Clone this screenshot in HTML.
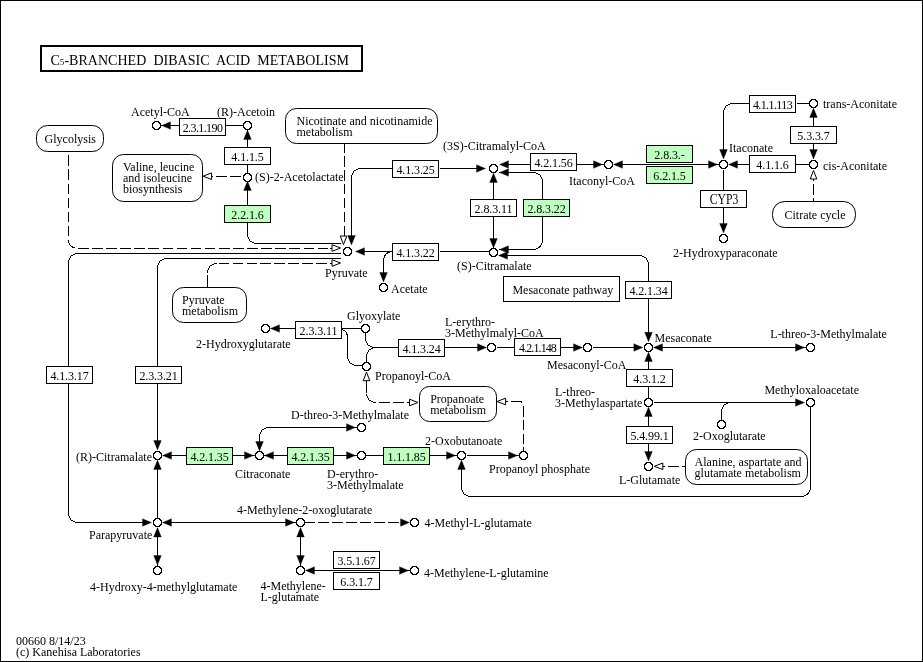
<!DOCTYPE html>
<html><head><meta charset="utf-8"><title>C5-Branched dibasic acid metabolism</title>
<style>
html,body{margin:0;padding:0;background:#fff;}
body{width:923px;height:662px;overflow:hidden;font-family:"Liberation Serif",serif;}
svg{display:block;}
svg text{font-family:"Liberation Serif",serif;font-size:12px;fill:#000;}
</style></head><body>
<svg width="923" height="662" viewBox="0 0 923 662">
<defs><filter id="gs" x="0" y="0" width="923" height="662" filterUnits="userSpaceOnUse" color-interpolation-filters="sRGB"><feColorMatrix type="saturate" values="0"/></filter>
<g id="c" shape-rendering="crispEdges"><path fill="#fff" d="M-1,-3h3v7h-3zM-2,-2h5v5h-5zM-3,-1h7v3h-7z"/><path fill="#000" d="M-2,-4h5v1h-5zM-3,-3h2v1h-2zM2,-3h2v1h-2zM-4,-2h2v1h-2zM3,-2h2v1h-2zM-4,-1h1v3h-1zM4,-1h1v3h-1zM-4,2h2v1h-2zM3,2h2v1h-2zM-3,3h2v1h-2zM2,3h2v1h-2zM-2,4h5v1h-5z"/></g></defs>
<rect x="0" y="0" width="923" height="662" fill="#fff"/>
<rect x="0.5" y="0.5" width="922" height="661" fill="none" stroke="#000" stroke-width="1" shape-rendering="crispEdges"/>
<rect x="41" y="46" width="321" height="25" fill="#fff" stroke="#000" stroke-width="2" shape-rendering="crispEdges"/>
<rect x="36.5" y="125.5" width="67" height="26" rx="11" ry="11" fill="#fff" stroke="#000" stroke-width="1"/>
<rect x="112.5" y="154.5" width="90" height="47" rx="11" ry="11" fill="#fff" stroke="#000" stroke-width="1"/>
<rect x="285.5" y="108.5" width="152" height="35" rx="11" ry="11" fill="#fff" stroke="#000" stroke-width="1"/>
<rect x="172.5" y="287.5" width="74" height="35" rx="11" ry="11" fill="#fff" stroke="#000" stroke-width="1"/>
<rect x="772.5" y="201.5" width="83" height="26" rx="12" ry="12" fill="#fff" stroke="#000" stroke-width="1"/>
<rect x="419.5" y="386.5" width="77" height="35" rx="10" ry="10" fill="#fff" stroke="#000" stroke-width="1"/>
<rect x="685.5" y="449.5" width="122" height="35" rx="11" ry="11" fill="#fff" stroke="#000" stroke-width="1"/>
<rect x="503.5" y="276.5" width="116" height="25" fill="#fff" stroke="#000" stroke-width="1" shape-rendering="crispEdges"/>
<path d="M160.5,125.5 L243.5,125.5" fill="none" stroke="#000" stroke-width="1" shape-rendering="crispEdges"/>
<polygon points="161.5,125.5 170.5,121.65 170.5,129.35" fill="#000" stroke="#000" stroke-width="0.3"/>
<path d="M247.5,129.5 L247.5,172.5" fill="none" stroke="#000" stroke-width="1" shape-rendering="crispEdges"/>
<polygon points="247.5,130.0 243.65,139.5 251.35,139.5" fill="#000" stroke="#000" stroke-width="0.3"/>
<path d="M247.5,180.5 L247.5,206.5" fill="none" stroke="#000" stroke-width="1" shape-rendering="crispEdges"/>
<polygon points="247.5,181.0 243.65,190.5 251.35,190.5" fill="#000" stroke="#000" stroke-width="0.3"/>
<path d="M247.5,222 L247.5,234.5 A9,9,0,0,0,256.5,243.5 L341,243.5" fill="none" stroke="#000" stroke-width="1" shape-rendering="crispEdges"/>
<path d="M240.9,176.5 L204,176.5" fill="none" stroke="#000" stroke-width="1" stroke-dasharray="10.8,3.3" shape-rendering="crispEdges"/>
<polygon points="203.1,176.2 211.6,172.89999999999998 211.6,179.5" fill="#fff" stroke="#000" stroke-width="1"/>
<path d="M68.5,155.3 L68.5,239.5 A9,9,0,0,0,77.5,248.5 L328,248.5" fill="none" stroke="#000" stroke-width="1" stroke-dasharray="10.6,3.5" shape-rendering="crispEdges"/>
<path d="M329.5,248.5 L332.5,248.5" fill="none" stroke="#000" stroke-width="1" shape-rendering="crispEdges"/>
<polygon points="340.5,248.0 332.0,244.7 332.0,251.3" fill="#fff" stroke="#000" stroke-width="1"/>
<path d="M207.5,287 L207.5,275.2 M207.5,272.5 A9,9,0,0,1,216.5,263.5" fill="none" stroke="#000" stroke-width="1" shape-rendering="crispEdges"/>
<path d="M218.6,263.5 L327,263.5" fill="none" stroke="#000" stroke-width="1" stroke-dasharray="10.4,3.55" shape-rendering="crispEdges"/>
<path d="M329.5,263.5 L332.5,263.5" fill="none" stroke="#000" stroke-width="1" shape-rendering="crispEdges"/>
<polygon points="340.5,263.0 332.0,259.7 332.0,266.3" fill="#fff" stroke="#000" stroke-width="1"/>
<path d="M344.5,144 L344.5,235.5" fill="none" stroke="#000" stroke-width="1" stroke-dasharray="10.4,3.5" stroke-dashoffset="1.7" shape-rendering="crispEdges"/>
<polygon points="343.5,244.5 340.2,236.0 346.8,236.0" fill="#fff" stroke="#000" stroke-width="1"/>
<path d="M393,168.5 L360.5,168.5 A9,9,0,0,0,351.5,177.5 L351.5,236" fill="none" stroke="#000" stroke-width="1" shape-rendering="crispEdges"/>
<polygon points="351.5,245.0 347.65,235.5 355.35,235.5" fill="#000" stroke="#000" stroke-width="0.3"/>
<path d="M439.5,168.5 L480.5,168.5" fill="none" stroke="#000" stroke-width="1" shape-rendering="crispEdges"/>
<polygon points="485.5,168.5 476.5,164.65 476.5,172.35" fill="#000" stroke="#000" stroke-width="0.3"/>
<path d="M356.5,251.5 L393.5,251.5" fill="none" stroke="#000" stroke-width="1" shape-rendering="crispEdges"/>
<polygon points="355.5,251.5 364.5,247.65 364.5,255.35" fill="#000" stroke="#000" stroke-width="0.3"/>
<path d="M393,251.5 Q383.5,252,383.5,262 L383.5,273" fill="none" stroke="#000" stroke-width="1" shape-rendering="crispEdges"/>
<polygon points="383.5,282.0 379.65,272.5 387.35,272.5" fill="#000" stroke="#000" stroke-width="0.3"/>
<path d="M439.5,251.5 L489.5,251.5" fill="none" stroke="#000" stroke-width="1" shape-rendering="crispEdges"/>
<path d="M341,253.5 L77.5,253.5 A9,9,0,0,0,68.5,262.5 L68.5,513 L68.5,513.5 A9,9,0,0,0,77.5,522.5 L145,522.5" fill="none" stroke="#000" stroke-width="1" shape-rendering="crispEdges"/>
<polygon points="151.5,522.5 142.5,518.65 142.5,526.35" fill="#000" stroke="#000" stroke-width="0.3"/>
<path d="M341,258.5 L166.5,258.5 A9,9,0,0,0,157.5,267.5 L157.5,443" fill="none" stroke="#000" stroke-width="1" shape-rendering="crispEdges"/>
<polygon points="157.5,450.0 153.65,440.5 161.35,440.5" fill="#000" stroke="#000" stroke-width="0.3"/>
<path d="M493.5,173.5 L493.5,247.5" fill="none" stroke="#000" stroke-width="1" shape-rendering="crispEdges"/>
<polygon points="493.5,173.0 489.65,182.5 497.35,182.5" fill="#000" stroke="#000" stroke-width="0.3"/>
<polygon points="493.5,248.0 489.65,238.5 497.35,238.5" fill="#000" stroke="#000" stroke-width="0.3"/>
<path d="M500.5,164.5 L604.5,164.5" fill="none" stroke="#000" stroke-width="1" shape-rendering="crispEdges"/>
<polygon points="499.5,164.5 508.5,160.65 508.5,168.35" fill="#000" stroke="#000" stroke-width="0.3"/>
<polygon points="602.5,164.5 593.5,160.65 593.5,168.35" fill="#000" stroke="#000" stroke-width="0.3"/>
<path d="M499,172.5 L533.5,172.5 A9,9,0,0,1,542.5,181.5 L542.5,240 L542.5,240.5 A9,9,0,0,1,533.5,249.5 L499,249.5" fill="none" stroke="#000" stroke-width="1" shape-rendering="crispEdges"/>
<polygon points="499.5,172.5 508.5,168.65 508.5,176.35" fill="#000" stroke="#000" stroke-width="0.3"/>
<polygon points="499.5,249.5 508.5,245.65 508.5,253.35" fill="#000" stroke="#000" stroke-width="0.3"/>
<path d="M613.5,164.5 L718.5,164.5" fill="none" stroke="#000" stroke-width="1" shape-rendering="crispEdges"/>
<polygon points="613.5,164.5 622.5,160.65 622.5,168.35" fill="#000" stroke="#000" stroke-width="0.3"/>
<polygon points="717.5,164.5 708.5,160.65 708.5,168.35" fill="#000" stroke="#000" stroke-width="0.3"/>
<path d="M728.5,164.5 L809.5,164.5" fill="none" stroke="#000" stroke-width="1" shape-rendering="crispEdges"/>
<polygon points="728.5,164.5 737.5,160.65 737.5,168.35" fill="#000" stroke="#000" stroke-width="0.3"/>
<path d="M750,103.5 L732.5,103.5 A9,9,0,0,0,723.5,112.5 L723.5,150" fill="none" stroke="#000" stroke-width="1" shape-rendering="crispEdges"/>
<polygon points="723.5,159.0 719.65,149.5 727.35,149.5" fill="#000" stroke="#000" stroke-width="0.3"/>
<path d="M796.5,103.5 L809.5,103.5" fill="none" stroke="#000" stroke-width="1" shape-rendering="crispEdges"/>
<path d="M813.5,108.5 L813.5,158.5" fill="none" stroke="#000" stroke-width="1" shape-rendering="crispEdges"/>
<polygon points="813.5,108.0 809.65,117.5 817.35,117.5" fill="#000" stroke="#000" stroke-width="0.3"/>
<polygon points="813.5,159.0 809.65,149.5 817.35,149.5" fill="#000" stroke="#000" stroke-width="0.3"/>
<path d="M813.5,178 L813.5,181 M813.5,184 L813.5,195 M813.5,198 L813.5,201" fill="none" stroke="#000" stroke-width="1" shape-rendering="crispEdges"/>
<polygon points="813.5,170.5 810.2,179.0 816.8,179.0" fill="#fff" stroke="#000" stroke-width="1"/>
<path d="M723.5,169.5 L723.5,228.5" fill="none" stroke="#000" stroke-width="1" shape-rendering="crispEdges"/>
<polygon points="723.5,233.0 719.65,223.5 727.35,223.5" fill="#000" stroke="#000" stroke-width="0.3"/>
<path d="M499,255.5 L639.5,255.5 A9,9,0,0,1,648.5,264.5 L648.5,334" fill="none" stroke="#000" stroke-width="1" shape-rendering="crispEdges"/>
<polygon points="498.5,255.5 507.5,251.65 507.5,259.35" fill="#000" stroke="#000" stroke-width="0.3"/>
<polygon points="648.5,341.8 644.65,332.3 652.35,332.3" fill="#000" stroke="#000" stroke-width="0.3"/>
<path d="M270.5,328.5 L361.5,328.5" fill="none" stroke="#000" stroke-width="1" shape-rendering="crispEdges"/>
<polygon points="270.5,328.5 279.5,324.65 279.5,332.35" fill="#000" stroke="#000" stroke-width="0.3"/>
<path d="M341.5,329.5 Q347.5,330.5,347.5,338 L347.5,356.5 A9,9,0,0,0,356.5,365.5 L362,365.5" fill="none" stroke="#000" stroke-width="1" shape-rendering="crispEdges"/>
<path d="M365.5,332 L365.5,338.5 A9,9,0,0,0,374.5,347.5 L398,347.5" fill="none" stroke="#000" stroke-width="1" shape-rendering="crispEdges"/>
<path d="M366.5,362 L366.5,356.5 A9,9,0,0,1,375.5,347.5" fill="none" stroke="#000" stroke-width="1" shape-rendering="crispEdges"/>
<path d="M444.5,347.5 L484.5,347.5" fill="none" stroke="#000" stroke-width="1" shape-rendering="crispEdges"/>
<polygon points="486.5,347.5 477.5,343.65 477.5,351.35" fill="#000" stroke="#000" stroke-width="0.3"/>
<path d="M496.5,347.5 L514.5,347.5" fill="none" stroke="#000" stroke-width="1" shape-rendering="crispEdges"/>
<path d="M560.5,347.5 L580.5,347.5" fill="none" stroke="#000" stroke-width="1" shape-rendering="crispEdges"/>
<polygon points="582.5,347.5 573.5,343.65 573.5,351.35" fill="#000" stroke="#000" stroke-width="0.3"/>
<path d="M592.5,347.5 L640.5,347.5" fill="none" stroke="#000" stroke-width="1" shape-rendering="crispEdges"/>
<polygon points="642.8,347.5 633.8,343.65 633.8,351.35" fill="#000" stroke="#000" stroke-width="0.3"/>
<path d="M653.5,347.5 L805.5,347.5" fill="none" stroke="#000" stroke-width="1" shape-rendering="crispEdges"/>
<polygon points="653.5,347.5 662.5,343.65 662.5,351.35" fill="#000" stroke="#000" stroke-width="0.3"/>
<polygon points="804.5,347.5 795.5,343.65 795.5,351.35" fill="#000" stroke="#000" stroke-width="0.3"/>
<path d="M648.5,352.5 L648.5,398.5" fill="none" stroke="#000" stroke-width="1" shape-rendering="crispEdges"/>
<polygon points="648.5,352.0 644.65,361.5 652.35,361.5" fill="#000" stroke="#000" stroke-width="0.3"/>
<path d="M648.5,407.5 L648.5,458.5" fill="none" stroke="#000" stroke-width="1" shape-rendering="crispEdges"/>
<polygon points="648.5,407.0 644.65,416.5 652.35,416.5" fill="#000" stroke="#000" stroke-width="0.3"/>
<polygon points="648.5,461.0 644.65,451.5 652.35,451.5" fill="#000" stroke="#000" stroke-width="0.3"/>
<path d="M653.5,402.5 L800.5,402.5" fill="none" stroke="#000" stroke-width="1" shape-rendering="crispEdges"/>
<polygon points="804.5,402.5 795.5,398.65 795.5,406.35" fill="#000" stroke="#000" stroke-width="0.3"/>
<path d="M721.5,420 L721.5,411.5 A9,9,0,0,1,730.5,402.5" fill="none" stroke="#000" stroke-width="1" shape-rendering="crispEdges"/>
<path d="M662,466.5 L665,466.5 M668.1,466.5 L678.8,466.5 M682,466.5 L685.5,466.5" fill="none" stroke="#000" stroke-width="1" shape-rendering="crispEdges"/>
<polygon points="654.3,466.3 662.8,463.0 662.8,469.6" fill="#fff" stroke="#000" stroke-width="1"/>
<path d="M810.5,407 L810.5,487.5 A9,9,0,0,1,801.5,496.5 L470.5,496.5 A9,9,0,0,1,461.5,487.5 L461.5,468" fill="none" stroke="#000" stroke-width="1" shape-rendering="crispEdges"/>
<polygon points="461.5,460.0 457.65,469.5 465.35,469.5" fill="#000" stroke="#000" stroke-width="0.3"/>
<path d="M366.5,381 L366.5,393 M366.5,396 L366.5,393.5 A9,9,0,0,0,375.5,402.5 L376,402.5 M379,402.5 L390,402.5 M393,402.5 L404,402.5 M407,402.5 L409,402.5" fill="none" stroke="#000" stroke-width="1" shape-rendering="crispEdges"/>
<polygon points="366.5,372.2 363.2,380.7 369.8,380.7" fill="#fff" stroke="#000" stroke-width="1"/>
<polygon points="418.0,402.5 409.5,399.2 409.5,405.8" fill="#fff" stroke="#000" stroke-width="1"/>
<path d="M505,401.5 L508,401.5 M511,401.5 L521,401.5 L522,402.5 M523.5,406 L523.5,416.8 M523.5,419.7 L523.5,430.3 M523.5,433.5 L523.5,444 M523.5,447.3 L523.5,451" fill="none" stroke="#000" stroke-width="1" shape-rendering="crispEdges"/>
<polygon points="497.1,401.5 505.6,398.2 505.6,404.8" fill="#fff" stroke="#000" stroke-width="1"/>
<path d="M162.5,455.5 L457.5,455.5" fill="none" stroke="#000" stroke-width="1" shape-rendering="crispEdges"/>
<polygon points="162.5,455.5 171.5,451.65 171.5,459.35" fill="#000" stroke="#000" stroke-width="0.3"/>
<polygon points="253.5,455.5 244.5,451.65 244.5,459.35" fill="#000" stroke="#000" stroke-width="0.3"/>
<polygon points="264.5,455.5 273.5,451.65 273.5,459.35" fill="#000" stroke="#000" stroke-width="0.3"/>
<polygon points="355.5,455.5 346.5,451.65 346.5,459.35" fill="#000" stroke="#000" stroke-width="0.3"/>
<polygon points="455.5,455.5 446.5,451.65 446.5,459.35" fill="#000" stroke="#000" stroke-width="0.3"/>
<path d="M466.5,455.5 L519.5,455.5" fill="none" stroke="#000" stroke-width="1" shape-rendering="crispEdges"/>
<polygon points="517.5,455.5 508.5,451.65 508.5,459.35" fill="#000" stroke="#000" stroke-width="0.3"/>
<path d="M357,427.5 L268.5,427.5 A9,9,0,0,0,259.5,436.5 L259.5,442" fill="none" stroke="#000" stroke-width="1" shape-rendering="crispEdges"/>
<polygon points="355.5,427.5 346.5,423.65 346.5,431.35" fill="#000" stroke="#000" stroke-width="0.3"/>
<polygon points="259.5,451.0 255.65,441.5 263.35,441.5" fill="#000" stroke="#000" stroke-width="0.3"/>
<path d="M157.5,460.5 L157.5,518.5" fill="none" stroke="#000" stroke-width="1" shape-rendering="crispEdges"/>
<polygon points="157.5,460.0 153.65,469.5 161.35,469.5" fill="#000" stroke="#000" stroke-width="0.3"/>
<path d="M157.5,527.5 L157.5,566.5" fill="none" stroke="#000" stroke-width="1" shape-rendering="crispEdges"/>
<polygon points="157.5,527.5 153.65,537.0 161.35,537.0" fill="#000" stroke="#000" stroke-width="0.3"/>
<polygon points="157.5,565.0 153.65,555.5 161.35,555.5" fill="#000" stroke="#000" stroke-width="0.3"/>
<path d="M162.5,522.5 L296.5,522.5" fill="none" stroke="#000" stroke-width="1" shape-rendering="crispEdges"/>
<polygon points="162.5,522.5 171.5,518.65 171.5,526.35" fill="#000" stroke="#000" stroke-width="0.3"/>
<polygon points="294.5,522.5 285.5,518.65 285.5,526.35" fill="#000" stroke="#000" stroke-width="0.3"/>
<path d="M304.5,522.5 L400,522.5" fill="none" stroke="#000" stroke-width="1" stroke-dasharray="10.5,3.43" shape-rendering="crispEdges"/>
<polygon points="409.5,522.5 400.5,518.65 400.5,526.35" fill="#000" stroke="#000" stroke-width="0.3"/>
<path d="M300.5,527.5 L300.5,566.5" fill="none" stroke="#000" stroke-width="1" shape-rendering="crispEdges"/>
<polygon points="300.5,527.5 296.65,537.0 304.35,537.0" fill="#000" stroke="#000" stroke-width="0.3"/>
<polygon points="300.5,565.0 296.65,555.5 304.35,555.5" fill="#000" stroke="#000" stroke-width="0.3"/>
<path d="M305.5,570.5 L410.5,570.5" fill="none" stroke="#000" stroke-width="1" shape-rendering="crispEdges"/>
<polygon points="305.5,570.5 314.5,566.65 314.5,574.35" fill="#000" stroke="#000" stroke-width="0.3"/>
<polygon points="408.5,570.5 399.5,566.65 399.5,574.35" fill="#000" stroke="#000" stroke-width="0.3"/>
<rect x="179.5" y="118.5" width="46" height="17" fill="#fff" stroke="#000" stroke-width="1" shape-rendering="crispEdges"/>
<rect x="224.5" y="147.5" width="46" height="17" fill="#fff" stroke="#000" stroke-width="1" shape-rendering="crispEdges"/>
<rect x="224.5" y="205.5" width="46" height="17" fill="#bfffbf" stroke="#000" stroke-width="1" shape-rendering="crispEdges"/>
<rect x="392.5" y="160.5" width="46" height="17" fill="#fff" stroke="#000" stroke-width="1" shape-rendering="crispEdges"/>
<rect x="392.5" y="243.5" width="46" height="17" fill="#fff" stroke="#000" stroke-width="1" shape-rendering="crispEdges"/>
<rect x="470.5" y="199.5" width="46" height="17" fill="#fff" stroke="#000" stroke-width="1" shape-rendering="crispEdges"/>
<rect x="523.5" y="199.5" width="46" height="17" fill="#bfffbf" stroke="#000" stroke-width="1" shape-rendering="crispEdges"/>
<rect x="530.5" y="153.5" width="46" height="17" fill="#fff" stroke="#000" stroke-width="1" shape-rendering="crispEdges"/>
<rect x="646.5" y="145.5" width="46" height="17" fill="#bfffbf" stroke="#000" stroke-width="1" shape-rendering="crispEdges"/>
<rect x="646.5" y="166.5" width="46" height="17" fill="#bfffbf" stroke="#000" stroke-width="1" shape-rendering="crispEdges"/>
<rect x="749.5" y="155.5" width="46" height="17" fill="#fff" stroke="#000" stroke-width="1" shape-rendering="crispEdges"/>
<rect x="749.5" y="95.5" width="46" height="17" fill="#fff" stroke="#000" stroke-width="1" shape-rendering="crispEdges"/>
<rect x="790.5" y="126.5" width="46" height="17" fill="#fff" stroke="#000" stroke-width="1" shape-rendering="crispEdges"/>
<rect x="700.5" y="190.5" width="46" height="17" fill="#fff" stroke="#000" stroke-width="1" shape-rendering="crispEdges"/>
<rect x="625.5" y="281.5" width="46" height="17" fill="#fff" stroke="#000" stroke-width="1" shape-rendering="crispEdges"/>
<rect x="295.5" y="321.5" width="46" height="17" fill="#fff" stroke="#000" stroke-width="1" shape-rendering="crispEdges"/>
<rect x="398.5" y="339.5" width="46" height="17" fill="#fff" stroke="#000" stroke-width="1" shape-rendering="crispEdges"/>
<rect x="514.5" y="338.5" width="46" height="17" fill="#fff" stroke="#000" stroke-width="1" shape-rendering="crispEdges"/>
<rect x="626.5" y="369.5" width="46" height="17" fill="#fff" stroke="#000" stroke-width="1" shape-rendering="crispEdges"/>
<rect x="626.5" y="426.5" width="46" height="17" fill="#fff" stroke="#000" stroke-width="1" shape-rendering="crispEdges"/>
<rect x="46.5" y="366.5" width="46" height="17" fill="#fff" stroke="#000" stroke-width="1" shape-rendering="crispEdges"/>
<rect x="135.5" y="366.5" width="46" height="17" fill="#fff" stroke="#000" stroke-width="1" shape-rendering="crispEdges"/>
<rect x="186.5" y="447.5" width="46" height="17" fill="#bfffbf" stroke="#000" stroke-width="1" shape-rendering="crispEdges"/>
<rect x="287.5" y="447.5" width="46" height="17" fill="#bfffbf" stroke="#000" stroke-width="1" shape-rendering="crispEdges"/>
<rect x="383.5" y="447.5" width="46" height="17" fill="#bfffbf" stroke="#000" stroke-width="1" shape-rendering="crispEdges"/>
<rect x="333.5" y="551.5" width="46" height="17" fill="#fff" stroke="#000" stroke-width="1" shape-rendering="crispEdges"/>
<rect x="333.5" y="572.5" width="46" height="17" fill="#fff" stroke="#000" stroke-width="1" shape-rendering="crispEdges"/>
<use href="#c" x="156" y="125"/>
<use href="#c" x="247" y="125"/>
<use href="#c" x="247" y="177"/>
<use href="#c" x="347" y="251"/>
<use href="#c" x="383" y="287"/>
<use href="#c" x="493" y="168"/>
<use href="#c" x="493" y="252"/>
<use href="#c" x="608" y="164"/>
<use href="#c" x="723" y="164"/>
<use href="#c" x="813" y="164"/>
<use href="#c" x="813" y="103"/>
<use href="#c" x="723" y="238"/>
<use href="#c" x="265" y="328"/>
<use href="#c" x="365" y="328"/>
<use href="#c" x="366" y="366"/>
<use href="#c" x="491" y="347"/>
<use href="#c" x="587" y="347"/>
<use href="#c" x="648" y="347"/>
<use href="#c" x="810" y="347"/>
<use href="#c" x="648" y="402"/>
<use href="#c" x="810" y="402"/>
<use href="#c" x="721" y="424"/>
<use href="#c" x="648" y="466"/>
<use href="#c" x="157" y="455"/>
<use href="#c" x="259" y="455"/>
<use href="#c" x="361" y="427"/>
<use href="#c" x="361" y="455"/>
<use href="#c" x="461" y="455"/>
<use href="#c" x="523" y="455"/>
<use href="#c" x="157" y="522"/>
<use href="#c" x="157" y="570"/>
<use href="#c" x="300" y="522"/>
<use href="#c" x="414" y="522"/>
<use href="#c" x="300" y="570"/>
<use href="#c" x="414" y="570"/>
<g filter="url(#gs)">
<text id="title" x="50.5" y="65" textLength="298.5" style="font-size:14px;white-space:pre" xml:space="preserve">C<tspan style="font-size:9px">5</tspan>-BRANCHED  DIBASIC  ACID  METABOLISM</text>
<text x="44.6" y="143">Glycolysis</text>
<text x="123" y="171">Valine, leucine</text>
<text x="123" y="182">and isoleucine</text>
<text x="123" y="193">biosynthesis</text>
<text x="296.5" y="125">Nicotinate and nicotinamide</text>
<text x="296.5" y="136">metabolism</text>
<text x="182" y="304">Pyruvate</text>
<text x="182" y="315">metabolism</text>
<text x="784.5" y="219">Citrate cycle</text>
<text x="430.2" y="403">Propanoate</text>
<text x="430.2" y="414">metabolism</text>
<text x="694.6" y="466">Alanine, aspartate and</text>
<text x="694.6" y="477">glutamate metabolism</text>
<text x="512.4" y="294">Mesaconate pathway</text>
<text x="202.5" y="132" text-anchor="middle" letter-spacing="-0.6">2.3.1.190</text>
<text x="247.5" y="161" text-anchor="middle" letter-spacing="-0.1">4.1.1.5</text>
<text x="247.5" y="219" text-anchor="middle" letter-spacing="-0.1">2.2.1.6</text>
<text x="415.5" y="174" text-anchor="middle" letter-spacing="-0.1">4.1.3.25</text>
<text x="415.5" y="257" text-anchor="middle" letter-spacing="-0.1">4.1.3.22</text>
<text x="493.5" y="213" text-anchor="middle" letter-spacing="-0.1">2.8.3.11</text>
<text x="546.5" y="213" text-anchor="middle" letter-spacing="-0.1">2.8.3.22</text>
<text x="553.5" y="167" text-anchor="middle" letter-spacing="-0.1">4.2.1.56</text>
<text x="669.5" y="159" text-anchor="middle" letter-spacing="-0.1">2.8.3.-</text>
<text x="669.5" y="180" text-anchor="middle" letter-spacing="-0.1">6.2.1.5</text>
<text x="772.5" y="169" text-anchor="middle" letter-spacing="-0.1">4.1.1.6</text>
<text x="772.5" y="109" text-anchor="middle" letter-spacing="-0.6">4.1.1.113</text>
<text x="813.5" y="140" text-anchor="middle" letter-spacing="-0.1">5.3.3.7</text>
<text x="723.5" y="204" text-anchor="middle" letter-spacing="-0.1"></text>
<text x="709.7" y="204" style="font-size:13.8px" textLength="28.6" lengthAdjust="spacingAndGlyphs">CYP3</text>
<text x="648.5" y="295" text-anchor="middle" letter-spacing="-0.1">4.2.1.34</text>
<text x="318.5" y="335" text-anchor="middle" letter-spacing="-0.1">2.3.3.11</text>
<text x="421.5" y="353" text-anchor="middle" letter-spacing="-0.1">4.1.3.24</text>
<text x="537.5" y="352" text-anchor="middle" letter-spacing="-0.9">4.2.1.148</text>
<text x="649.5" y="383" text-anchor="middle" letter-spacing="-0.1">4.3.1.2</text>
<text x="649.5" y="440" text-anchor="middle" letter-spacing="-0.1">5.4.99.1</text>
<text x="69.5" y="380" text-anchor="middle" letter-spacing="-0.1">4.1.3.17</text>
<text x="158.5" y="380" text-anchor="middle" letter-spacing="-0.1">2.3.3.21</text>
<text x="209.5" y="461" text-anchor="middle" letter-spacing="-0.1">4.2.1.35</text>
<text x="310.5" y="461" text-anchor="middle" letter-spacing="-0.1">4.2.1.35</text>
<text x="406.5" y="461" text-anchor="middle" letter-spacing="-0.1">1.1.1.85</text>
<text x="356.5" y="565" text-anchor="middle" letter-spacing="-0.1">3.5.1.67</text>
<text x="356.5" y="586" text-anchor="middle" letter-spacing="-0.1">6.3.1.7</text>
<text x="131" y="116">Acetyl-CoA</text>
<text x="217" y="116">(R)-Acetoin</text>
<text x="255" y="181">(S)-2-Acetolactate</text>
<text x="325" y="277">Pyruvate</text>
<text x="391" y="293">Acetate</text>
<text x="443" y="150">(3S)-Citramalyl-CoA</text>
<text x="569" y="185">Itaconyl-CoA</text>
<text x="457" y="270">(S)-Citramalate</text>
<text x="729" y="152">Itaconate</text>
<text x="823" y="108">trans-Aconitate</text>
<text x="823" y="170">cis-Aconitate</text>
<text x="673" y="257">2-Hydroxyparaconate</text>
<text x="347" y="320">Glyoxylate</text>
<text x="196" y="348">2-Hydroxyglutarate</text>
<text x="445" y="326">L-erythro-</text>
<text x="445" y="337">3-Methylmalyl-CoA</text>
<text x="375" y="380">Propanoyl-CoA</text>
<text x="547" y="369">Mesaconyl-CoA</text>
<text x="654.5" y="341.5">Mesaconate</text>
<text x="770.3" y="338">L-threo-3-Methylmalate</text>
<text x="555" y="396">L-threo-</text>
<text x="555" y="407">3-Methylaspartate</text>
<text x="764.4" y="394">Methyloxaloacetate</text>
<text x="693" y="440">2-Oxoglutarate</text>
<text x="619" y="484">L-Glutamate</text>
<text x="291" y="419">D-threo-3-Methylmalate</text>
<text x="76" y="461">(R)-Citramalate</text>
<text x="235" y="478">Citraconate</text>
<text x="327" y="478">D-erythro-</text>
<text x="327" y="489">3-Methylmalate</text>
<text x="425" y="445">2-Oxobutanoate</text>
<text x="489" y="473">Propanoyl phosphate</text>
<text x="237" y="514">4-Methylene-2-oxoglutarate</text>
<text x="89" y="539">Parapyruvate</text>
<text x="424.5" y="527">4-Methyl-L-glutamate</text>
<text x="90" y="591">4-Hydroxy-4-methylglutamate</text>
<text x="260.5" y="590">4-Methylene-</text>
<text x="260.5" y="601">L-glutamate</text>
<text x="424" y="577">4-Methylene-L-glutamine</text>
<text x="16" y="645">00660 8/14/23</text>
<text x="16" y="656">(c) Kanehisa Laboratories</text>
</g>
</svg>
</body></html>
